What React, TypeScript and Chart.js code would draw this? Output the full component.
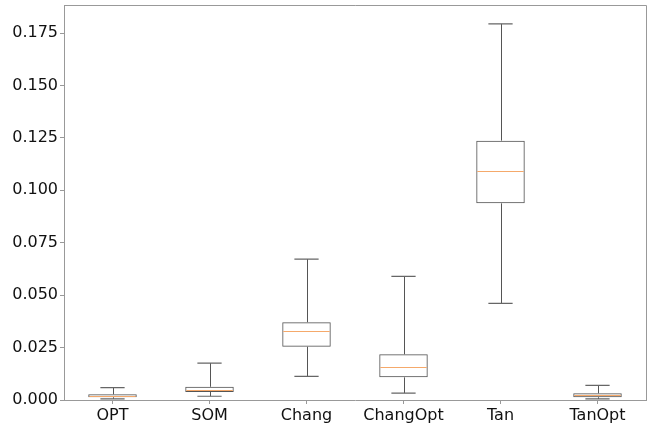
import React, { useEffect, useRef } from "react";
import { Chart, registerables } from "chart.js";

Chart.register(...registerables);

const categories = ["OPT", "SOM", "Chang", "ChangOpt", "Tan", "TanOpt"];
const whiskerLow = [0.0005, 0.0018, 0.0113, 0.0033, 0.0461, 0.0005];
const quartile1 = [0.0013, 0.0038, 0.0254, 0.0108, 0.0938, 0.0013];
const medians = [0.0021, 0.0048, 0.0328, 0.0156, 0.1092, 0.0022];
const quartile3 = [0.0027, 0.0063, 0.0371, 0.0218, 0.1237, 0.0032];
const whiskerHigh = [0.0059, 0.0176, 0.0672, 0.059, 0.1794, 0.007];
const yTicks = [0, 0.025, 0.05, 0.075, 0.1, 0.125, 0.15, 0.175];
const yMin = 0;
const yMax = 0.1884;

const boxPlugin = {
  id: "boxWhiskers",
  afterDatasetsDraw(chart: any) {
    const ctx = chart.ctx;
    const y = chart.scales.y;
    const meta = chart.getDatasetMeta(0);
    ctx.save();
    categories.forEach((_, i) => {
      const bar = meta.data[i];
      if (!bar) return;
      const cx = Math.round(bar.x) + 0.5;
      const w = bar.width;
      const left = bar.x - w / 2;
      const right = bar.x + w / 2;
      const pLow = y.getPixelForValue(whiskerLow[i]);
      const pQ1 = y.getPixelForValue(quartile1[i]);
      const pMed = y.getPixelForValue(medians[i]);
      const pQ3 = y.getPixelForValue(quartile3[i]);
      const pHigh = y.getPixelForValue(whiskerHigh[i]);
      // whiskers
      ctx.strokeStyle = "#555555";
      ctx.lineWidth = 1;
      ctx.beginPath();
      ctx.moveTo(cx, pQ3);
      ctx.lineTo(cx, pHigh);
      ctx.moveTo(cx, pQ1);
      ctx.lineTo(cx, pLow);
      ctx.stroke();
      // caps
      ctx.strokeStyle = "#666666";
      ctx.lineWidth = 1.2;
      ctx.beginPath();
      ctx.moveTo(bar.x - w / 4, pHigh);
      ctx.lineTo(bar.x + w / 4, pHigh);
      ctx.moveTo(bar.x - w / 4, pLow);
      ctx.lineTo(bar.x + w / 4, pLow);
      ctx.stroke();
      // median
      ctx.strokeStyle = "#f5a96b";
      ctx.lineWidth = 1;
      ctx.beginPath();
      ctx.moveTo(left + 1, Math.round(pMed) + 0.5);
      ctx.lineTo(right - 1, Math.round(pMed) + 0.5);
      ctx.stroke();
    });
    // frame top and right
    const a = chart.chartArea;
    ctx.strokeStyle = "#999999";
    ctx.lineWidth = 1;
    ctx.beginPath();
    ctx.moveTo(a.left, Math.round(a.top) + 0.5);
    ctx.lineTo(Math.round(a.right) + 0.5, Math.round(a.top) + 0.5);
    ctx.lineTo(Math.round(a.right) + 0.5, a.bottom);
    ctx.stroke();
    ctx.restore();
  },
};

export default function App() {
  const ref = useRef<HTMLCanvasElement | null>(null);

  useEffect(() => {
    if (!ref.current) return;
    const chart = new Chart(ref.current, {
      type: "bar",
      data: {
        labels: categories,
        datasets: [
          {
            data: categories.map((_, i) => [quartile1[i], quartile3[i]]) as any,
            backgroundColor: "rgba(255,255,255,0)",
            borderColor: "#555555",
            borderWidth: 1,
            borderSkipped: false,
            barPercentage: 0.5,
            categoryPercentage: 1.0,
          },
        ],
      },
      options: {
        animation: false,
        responsive: false,
        layout: { padding: { top: 5, right: 5, left: 0, bottom: 0 } },
        plugins: {
          legend: { display: false },
          tooltip: { enabled: false },
        },
        scales: {
          x: {
            type: "category",
            offset: true,
            grid: {
              offset: false,
              drawOnChartArea: false,
              drawTicks: true,
              tickLength: 4,
              tickColor: "#999999",
            },
            border: { color: "#999999" },
            ticks: {
              color: "#111111",
              padding: 2,
              font: { family: "'DejaVu Sans'", size: 16 },
              maxRotation: 0,
              autoSkip: false,
            },
            afterFit: (s: any) => {
              s.height = 23;
              s.paddingLeft = 0;
              s.paddingRight = 0;
            },
          },
          y: {
            type: "linear",
            min: yMin,
            max: yMax,
            grid: {
              drawOnChartArea: false,
              drawTicks: true,
              tickLength: 4,
              tickColor: "#999999",
            },
            border: { color: "#999999" },
            afterBuildTicks: (s: any) => {
              s.ticks = yTicks.map((v) => ({ value: v }));
            },
            ticks: {
              color: "#111111",
              padding: 2,
              font: { family: "'DejaVu Sans'", size: 16 },
              callback: (v: any) => Number(v).toFixed(3),
            },
            afterFit: (s: any) => {
              s.width = 64;
              s.paddingTop = 0;
              s.paddingBottom = 0;
            },
          },
        },
      },
      plugins: [boxPlugin],
    });
    return () => chart.destroy();
  }, []);

  return (
    <div style={{ position: "absolute", left: 0, top: 0, width: 651, height: 423, background: "#fff" }}>
      <canvas ref={ref} width={651} height={423} />
    </div>
  );
}
